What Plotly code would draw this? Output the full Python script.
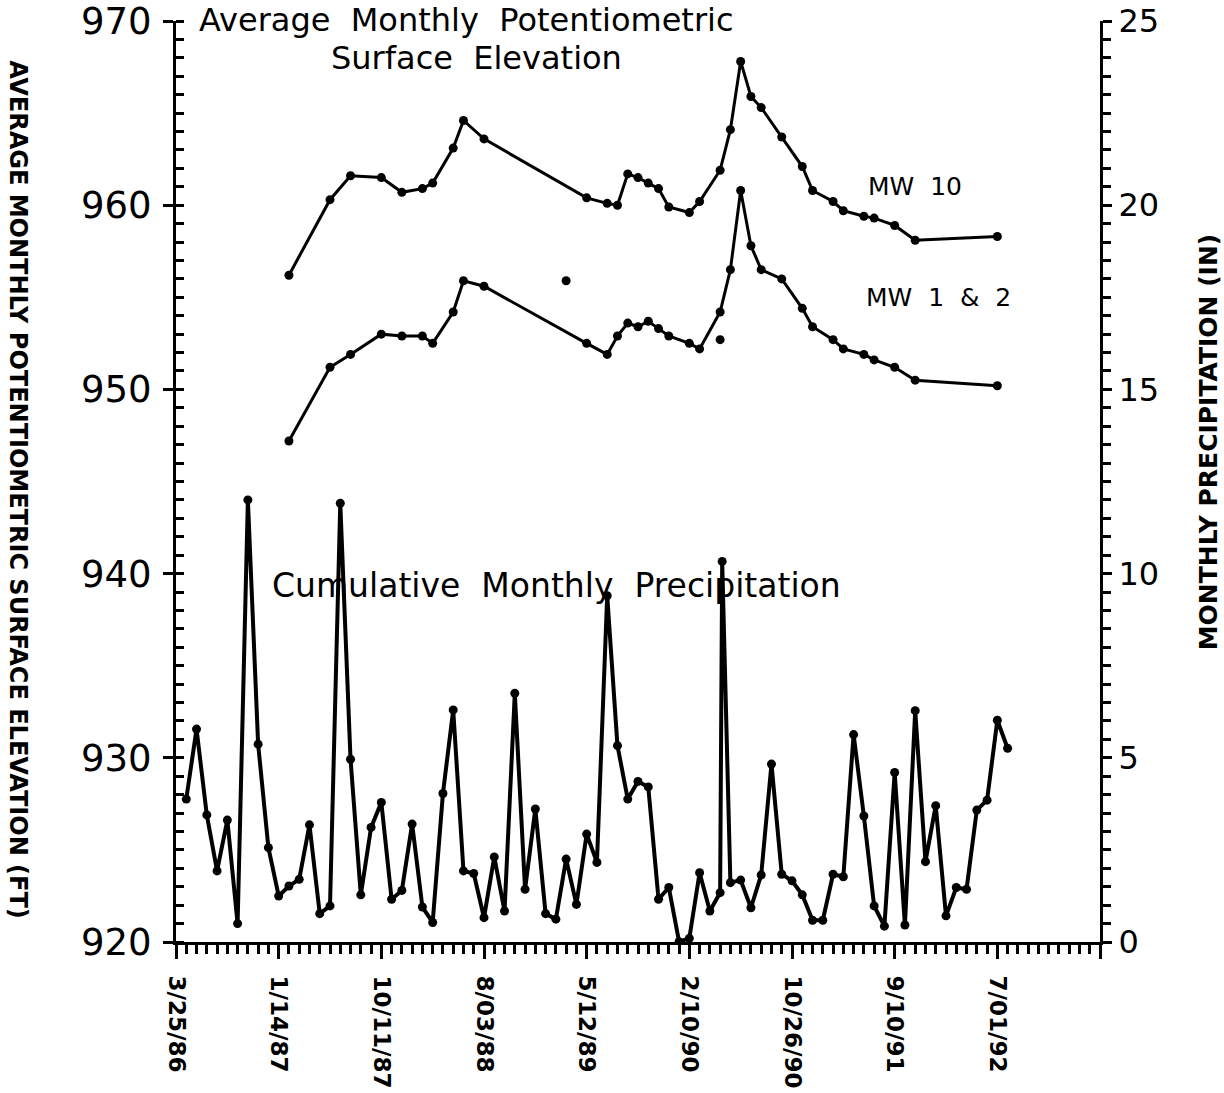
import plotly.graph_objects as go

# ---- data -------------------------------------------------------------
tick_pos = [0, 10, 20, 30, 40, 50, 60, 70, 80, 90]
tick_labels = ["3/25/86", "1/14/87", "10/11/87", "8/03/88", "5/12/89",
               "2/10/90", "10/26/90", "9/10/91", "7/01/92", ""]

precip_month = [1, 2, 3, 4, 5, 6, 7, 8, 9, 10, 11, 12, 13, 14, 15, 16, 17, 18, 19, 20,
                21, 22, 23, 24, 25, 26, 27, 28, 29, 30, 31, 32, 33, 34, 35, 36, 37, 38, 39, 40,
                41, 42, 43, 44, 45, 46, 47, 48, 49, 50, 51, 52, 53, 53.2, 54, 55, 56, 57, 58, 59,
                60, 61, 62, 63, 64, 65, 66, 67, 68, 69, 70, 71, 72, 73, 74, 75, 76, 77, 78, 79,
                80, 81]
precip_in = [3.88, 5.78, 3.45, 1.93, 3.31, 0.50, 12.0, 5.37, 2.56, 1.25,
             1.52, 1.70, 3.18, 0.77, 0.98, 11.91, 4.96, 1.28, 3.11, 3.79,
             1.16, 1.40, 3.20, 0.95, 0.53, 4.03, 6.30, 1.93, 1.86, 0.66,
             2.31, 0.84, 6.75, 1.43, 3.61, 0.77, 0.62, 2.25, 1.02, 2.93,
             2.16, 9.40, 5.33, 3.88, 4.36, 4.21, 1.16, 1.48, 0.01, 0.10,
             1.88, 0.84, 1.34, 10.33, 1.61, 1.68, 0.93, 1.82, 4.83, 1.84,
             1.66, 1.28, 0.59, 0.59, 1.84, 1.77, 5.63, 3.42, 0.98, 0.43,
             4.60, 0.46, 6.28, 2.18, 3.70, 0.71, 1.48, 1.43, 3.58, 3.85,
             6.02, 5.26]

well_month = [11, 15, 17, 20, 22, 24, 25, 27, 28, 30, 40, 42, 43, 44, 45, 46, 47, 48,
              50, 51, 53, 54, 55, 56, 57, 59, 61, 62, 64, 65, 67, 68, 70, 72, 80]
mw10_ft = [956.2, 960.3, 961.6, 961.5, 960.7, 960.9, 961.2, 963.1, 964.6, 963.6,
           960.4, 960.1, 960.0, 961.7, 961.5, 961.2, 960.9, 959.9,
           959.6, 960.2, 961.9, 964.1, 967.8, 965.9, 965.3, 963.7, 962.1, 960.8,
           960.2, 959.7, 959.4, 959.3, 958.9, 958.1, 958.3]
mw12_ft = [947.2, 951.2, 951.9, 953.0, 952.9, 952.9, 952.5, 954.2, 955.9, 955.6,
           952.5, 951.9, 952.9, 953.6, 953.4, 953.7, 953.3, 952.9,
           952.5, 952.2, 954.2, 956.5, 960.8, 957.8, 956.5, 956.0, 954.4, 953.4,
           952.7, 952.2, 951.9, 951.6, 951.2, 950.5, 950.2]

isolated_month = [38, 53]
isolated_ft = [955.9, 952.7]

# ---- figure -----------------------------------------------------------
FONT = "DejaVu Sans"
fig = go.Figure()

fig.add_trace(go.Scatter(x=well_month, y=mw10_ft, mode="lines+markers",
                         line=dict(color="black", width=3),
                         marker=dict(color="black", size=9), name="MW 10"))
fig.add_trace(go.Scatter(x=well_month, y=mw12_ft, mode="lines+markers",
                         line=dict(color="black", width=3),
                         marker=dict(color="black", size=9), name="MW 1 & 2"))
fig.add_trace(go.Scatter(x=isolated_month, y=isolated_ft, mode="markers",
                         marker=dict(color="black", size=9), name="isolated"))
fig.add_trace(go.Scatter(x=precip_month, y=precip_in, mode="lines+markers", yaxis="y2",
                         line=dict(color="black", width=4),
                         marker=dict(color="black", size=9), name="Precipitation"))

fig.update_layout(
    width=1224, height=1093,
    margin=dict(l=176, r=124, t=21, b=151),
    paper_bgcolor="white", plot_bgcolor="white",
    showlegend=False,
    font=dict(family=FONT, color="black"),
    xaxis=dict(range=[0, 90], tickmode="array", tickvals=tick_pos, ticktext=tick_labels,
               tickangle=90, ticks="outside", ticklen=14, tickwidth=3,
               ticklabelstandoff=12, automargin=False, ticklabeloverflow="allow",
               tickfont=dict(family=FONT, size=23, weight="bold"),
               minor=dict(dtick=1, ticks="outside", ticklen=9, tickwidth=2.5, tickcolor="black"),
               showline=True, linecolor="black", linewidth=3, mirror=False,
               showgrid=False, zeroline=False, tickcolor="black"),
    yaxis=dict(range=[920, 970], tickmode="linear", tick0=920, dtick=10,
               ticks="outside", ticklen=10, tickwidth=3, tickcolor="black",
               ticklabelstandoff=4, automargin=False, ticklabeloverflow="allow",
               tickfont=dict(family=FONT, size=37),
               minor=dict(dtick=1, ticks="inside", ticklen=8, tickwidth=2.5, tickcolor="black",
                          showgrid=False),
               showline=True, linecolor="black", linewidth=3, mirror=False,
               showgrid=False, zeroline=False),
    yaxis2=dict(range=[0, 25], overlaying="y", side="right", tickmode="linear",
                tick0=0, dtick=5, ticks="outside", ticklen=9, tickwidth=3,
                tickcolor="black", tickfont=dict(family=FONT, size=32),
                ticklabelstandoff=0, automargin=False, ticklabeloverflow="allow",
                minor=dict(dtick=0.5, ticks="outside", ticklen=8, tickwidth=2.5, tickcolor="black",
                           showgrid=False),
                showline=True, linecolor="black", linewidth=3,
                showgrid=False, zeroline=False),
)

S = "\u00a0\u00a0"
annots = [
    dict(text=f"Average{S}Monthly{S}Potentiometric", x=0.314, y=1.0011, size=32),
    dict(text=f"Surface{S}Elevation", x=0.325, y=0.9598, size=32),
    dict(text=f"Cumulative{S}Monthly{S}Precipitation", x=0.412, y=0.387, size=33),
    dict(text=f"MW{S}10", x=0.800, y=0.820, size=25),
    dict(text=f"MW{S}1{S}&amp;{S}2", x=0.825, y=0.700, size=25),
]
for a in annots:
    fig.add_annotation(text=a["text"], x=a["x"], y=a["y"], xref="paper", yref="paper",
                       xanchor="center", yanchor="middle", showarrow=False,
                       font=dict(family=FONT, size=a["size"], color="black"))

fig.add_annotation(text="AVERAGE MONTHLY POTENTIOMETRIC SURFACE ELEVATION (FT)",
                   x=-0.171, y=0.4905, xref="paper", yref="paper", textangle=90,
                   xanchor="center", yanchor="middle", showarrow=False,
                   font=dict(family=FONT, size=24, weight="bold", color="black"))
fig.add_annotation(text="MONTHLY PRECIPITATION (IN)",
                   x=1.117, y=0.5426, xref="paper", yref="paper", textangle=-90,
                   xanchor="center", yanchor="middle", showarrow=False,
                   font=dict(family=FONT, size=25, weight="bold", color="black"))

fig.write_html("out.html")
